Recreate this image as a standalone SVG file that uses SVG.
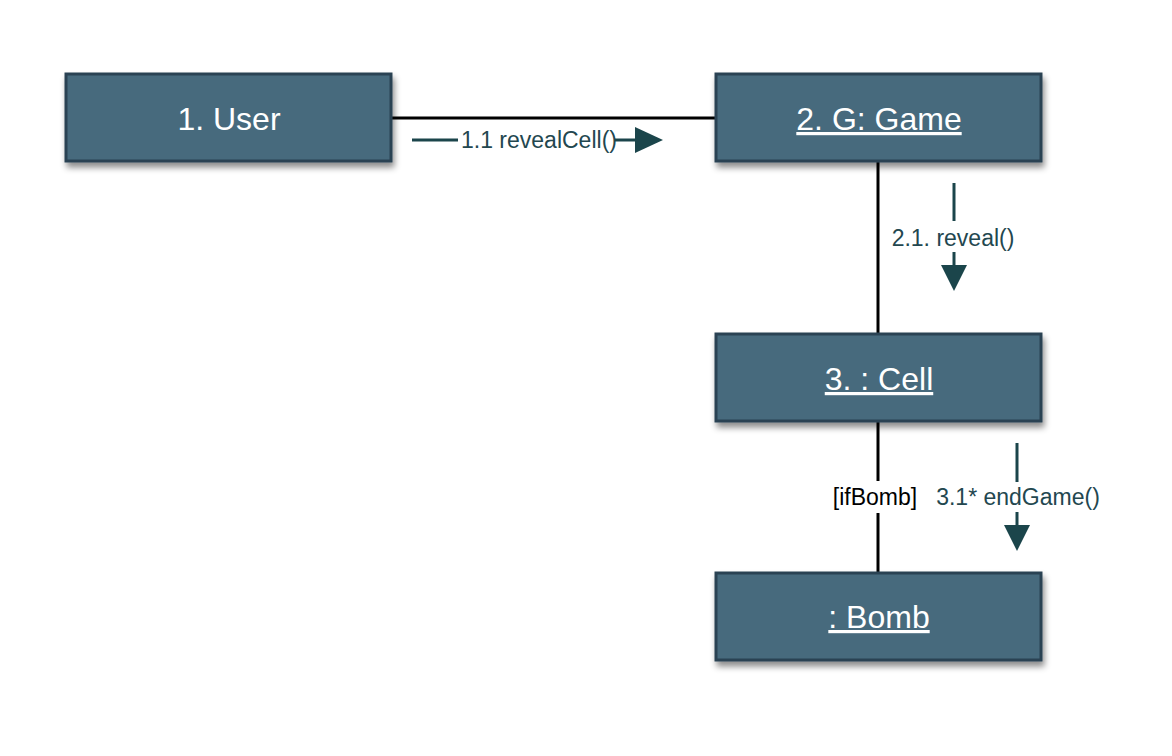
<svg xmlns="http://www.w3.org/2000/svg" width="1172" height="756" viewBox="0 0 1172 756">
<style>
.box{fill:#466a7d;stroke:#2c4352;stroke-width:3;filter:url(#sh)}
.nt{font-family:"Liberation Sans",Arial,sans-serif;font-size:32px;fill:#ffffff;text-anchor:middle}
.u{text-decoration:underline}
.assoc{stroke:#000;stroke-width:3;fill:none}
.msg{stroke:#1b454b;stroke-width:3;fill:none}
.head{fill:#1b454b}
.lt{font-family:"Liberation Sans",Arial,sans-serif;font-size:23px;fill:#23474f}
.gt{font-family:"Liberation Sans",Arial,sans-serif;font-size:23px;fill:#000}
</style>
<defs>
<filter id="sh" x="-10%" y="-20%" width="125%" height="150%">
<feDropShadow dx="2" dy="5" stdDeviation="3" flood-color="#000" flood-opacity="0.45"/>
</filter>
</defs>
<rect width="1172" height="756" fill="#fff"/>
<g id="connectors">
<line class="assoc" x1="391" y1="118" x2="716" y2="118"/>
<line class="assoc" x1="878" y1="161" x2="878" y2="334"/>
<line class="assoc" x1="878" y1="421" x2="878" y2="481"/>
<line class="assoc" x1="878" y1="513" x2="878" y2="572"/>
<text class="gt" x="875" y="505" text-anchor="middle">[ifBomb]</text>
<g id="msg1">
<line class="msg" x1="412" y1="140" x2="458" y2="140"/>
<text class="lt" x="461" y="148">1.1 revealCell()</text>
<line class="msg" x1="615" y1="140" x2="637" y2="140"/>
<polygon class="head" points="635,127 663,140 635,153"/>
</g>
<g id="msg2">
<line class="msg" x1="954" y1="183" x2="954" y2="221"/>
<text class="lt" x="953" y="246" text-anchor="middle">2.1. reveal()</text>
<line class="msg" x1="954" y1="252" x2="954" y2="267"/>
<polygon class="head" points="941,265 967,265 954,291"/>
</g>
<g id="msg3">
<line class="msg" x1="1017" y1="443" x2="1017" y2="482"/>
<text class="lt" x="1018" y="505" text-anchor="middle">3.1* endGame()</text>
<line class="msg" x1="1017" y1="512" x2="1017" y2="527"/>
<polygon class="head" points="1004,525 1030,525 1017,551"/>
</g>
</g>
<g id="user">
<rect class="box" x="66" y="74" width="325" height="87"/>
<text class="nt" x="229" y="130">1. User</text>
</g>
<g id="game">
<rect class="box" x="716" y="74" width="325" height="87"/>
<text class="nt u" x="879" y="130">2. G: Game</text>
</g>
<g id="cell">
<rect class="box" x="716" y="334" width="325" height="87"/>
<text class="nt u" x="879" y="390">3. : Cell</text>
</g>
<g id="bomb">
<rect class="box" x="716" y="573" width="325" height="87"/>
<text class="nt u" x="879" y="628">: Bomb</text>
</g>
</svg>
